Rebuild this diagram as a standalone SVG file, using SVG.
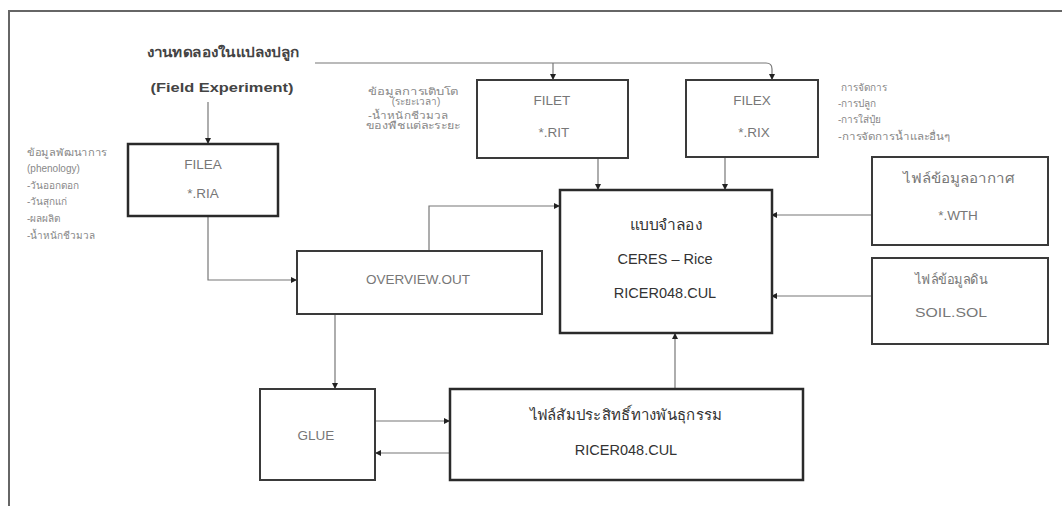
<svg xmlns="http://www.w3.org/2000/svg" width="1062" height="506" viewBox="0 0 1062 506">
<style>
.box{fill:#fff;stroke:#3a3a3a;stroke-width:2}
.thick{fill:#fff;stroke:#2a2a2a;stroke-width:2.5}
.con{fill:none;stroke:#777;stroke-width:1.2}
text{font-family:"Liberation Sans","DejaVu Sans","Noto Sans",sans-serif}
.lbl{font-size:13.5px;fill:#777;text-anchor:middle}
.dark{font-size:14.5px;fill:#333;text-anchor:middle}
.note{font-size:10px;fill:#888}
.title{font-weight:bold;fill:#444;text-anchor:middle}
</style>
<defs>
<marker id="ah" markerWidth="6" markerHeight="6" refX="5" refY="3" orient="auto" markerUnits="userSpaceOnUse">
<path d="M0,0 L6,3 L0,6 z" fill="#222"/>
</marker>
</defs>
<rect width="1062" height="506" fill="#fff"/>
<path d="M9,506 V11 H1062" fill="none" stroke="#666" stroke-width="2"/>

<g id="connectors">
<path class="con" d="M315,63 H766 Q772,63 772,69 V79" marker-end="url(#ah)"/>
<path class="con" d="M553,63 V79" marker-end="url(#ah)"/>
<path class="con" d="M208,102 V143" marker-end="url(#ah)"/>
<path class="con" d="M598,158 V189" marker-end="url(#ah)"/>
<path class="con" d="M725,157 V189" marker-end="url(#ah)"/>
<path class="con" d="M872,215 H772" marker-end="url(#ah)"/>
<path class="con" d="M872,296 H772" marker-end="url(#ah)"/>
<path class="con" d="M208,216 V280 H296" marker-end="url(#ah)"/>
<path class="con" d="M429,251 V206 H559" marker-end="url(#ah)"/>
<path class="con" d="M335,314 V388" marker-end="url(#ah)"/>
<path class="con" d="M375,421 H449" marker-end="url(#ah)"/>
<path class="con" d="M450,453 H376" marker-end="url(#ah)"/>
<path class="con" d="M675,389 V334" marker-end="url(#ah)"/>
</g>

<g id="field">
<text class="title" x="223" y="57" font-size="13" textLength="153" lengthAdjust="spacingAndGlyphs">งานทดลองในแปลงปลูก</text>
<text class="title" x="222" y="92" font-size="13.5" textLength="143" lengthAdjust="spacingAndGlyphs">(Field Experiment)</text>
</g>

<g id="notes-a">
<text class="note" x="27" y="156" textLength="80" lengthAdjust="spacingAndGlyphs">ข้อมูลพัฒนาการ</text>
<text class="note" x="27" y="172">(phenology)</text>
<text class="note" x="27" y="189">-วันออกดอก</text>
<text class="note" x="27" y="205">-วันสุกแก่</text>
<text class="note" x="27" y="222">-ผลผลิต</text>
<text class="note" x="27" y="239">-น้ำหนักชีวมวล</text>
</g>

<g id="notes-t">
<text class="note" x="413" y="95" text-anchor="middle" font-size="9.5" textLength="90" lengthAdjust="spacingAndGlyphs">ข้อมูลการเติบโต</text>
<text class="note" x="416" y="105" text-anchor="middle" font-size="9.5">(ระยะเวลา)</text>
<text class="note" x="408" y="119" text-anchor="middle" font-size="9.5" textLength="80" lengthAdjust="spacingAndGlyphs">-น้ำหนักชีวมวล</text>
<text class="note" x="413" y="129" text-anchor="middle" font-size="9.5" textLength="95" lengthAdjust="spacingAndGlyphs">ของพืชแต่ละระยะ</text>
</g>

<g id="notes-x">
<text class="note" x="841" y="91">การจัดการ</text>
<text class="note" x="838" y="107">-การปลูก</text>
<text class="note" x="838" y="123">-การใส่ปุ๋ย</text>
<text class="note" x="838" y="140" textLength="112" lengthAdjust="spacingAndGlyphs">-การจัดการน้ำและอื่นๆ</text>
</g>

<g id="filea">
<rect class="thick" x="128" y="144" width="150" height="72"/>
<text class="lbl" x="203" y="169">FILEA</text>
<text class="lbl" x="203" y="198">*.RIA</text>
</g>

<g id="filet">
<rect class="box" x="477" y="80" width="151" height="78"/>
<text class="lbl" x="552" y="105">FILET</text>
<text class="lbl" x="554" y="137">*.RIT</text>
</g>

<g id="filex">
<rect class="box" x="686" y="80" width="132" height="77"/>
<text class="lbl" x="752" y="105">FILEX</text>
<text class="lbl" x="754" y="137">*.RIX</text>
</g>

<g id="weather">
<rect class="box" x="872" y="157" width="176" height="88"/>
<text class="lbl" x="959" y="183" textLength="112" lengthAdjust="spacingAndGlyphs">ไฟล์ข้อมูลอากาศ</text>
<text class="lbl" x="958" y="220">*.WTH</text>
</g>

<g id="soil">
<rect class="box" x="872" y="258" width="176" height="86"/>
<text class="lbl" x="951" y="284" textLength="73" lengthAdjust="spacingAndGlyphs">ไฟล์ข้อมูลดิน</text>
<text class="lbl" x="951" y="317" textLength="72" lengthAdjust="spacingAndGlyphs">SOIL.SOL</text>
</g>

<g id="model">
<rect class="thick" x="560" y="190" width="212" height="143"/>
<text class="dark" x="666" y="230" textLength="73" lengthAdjust="spacingAndGlyphs">แบบจำลอง</text>
<text class="dark" x="665" y="264">CERES – Rice</text>
<text class="dark" x="665" y="298">RICER048.CUL</text>
</g>

<g id="overview">
<rect class="box" x="297" y="251" width="245" height="63"/>
<text class="lbl" x="418" y="284">OVERVIEW.OUT</text>
</g>

<g id="glue">
<rect class="box" x="260" y="389" width="115" height="91"/>
<text class="lbl" x="316" y="440">GLUE</text>
</g>

<g id="genetic">
<rect class="thick" x="450" y="389" width="353" height="91"/>
<text class="dark" x="626" y="420" textLength="193" lengthAdjust="spacingAndGlyphs">ไฟล์สัมประสิทธิ์ทางพันธุกรรม</text>
<text class="dark" x="626" y="455">RICER048.CUL</text>
</g>
</svg>
